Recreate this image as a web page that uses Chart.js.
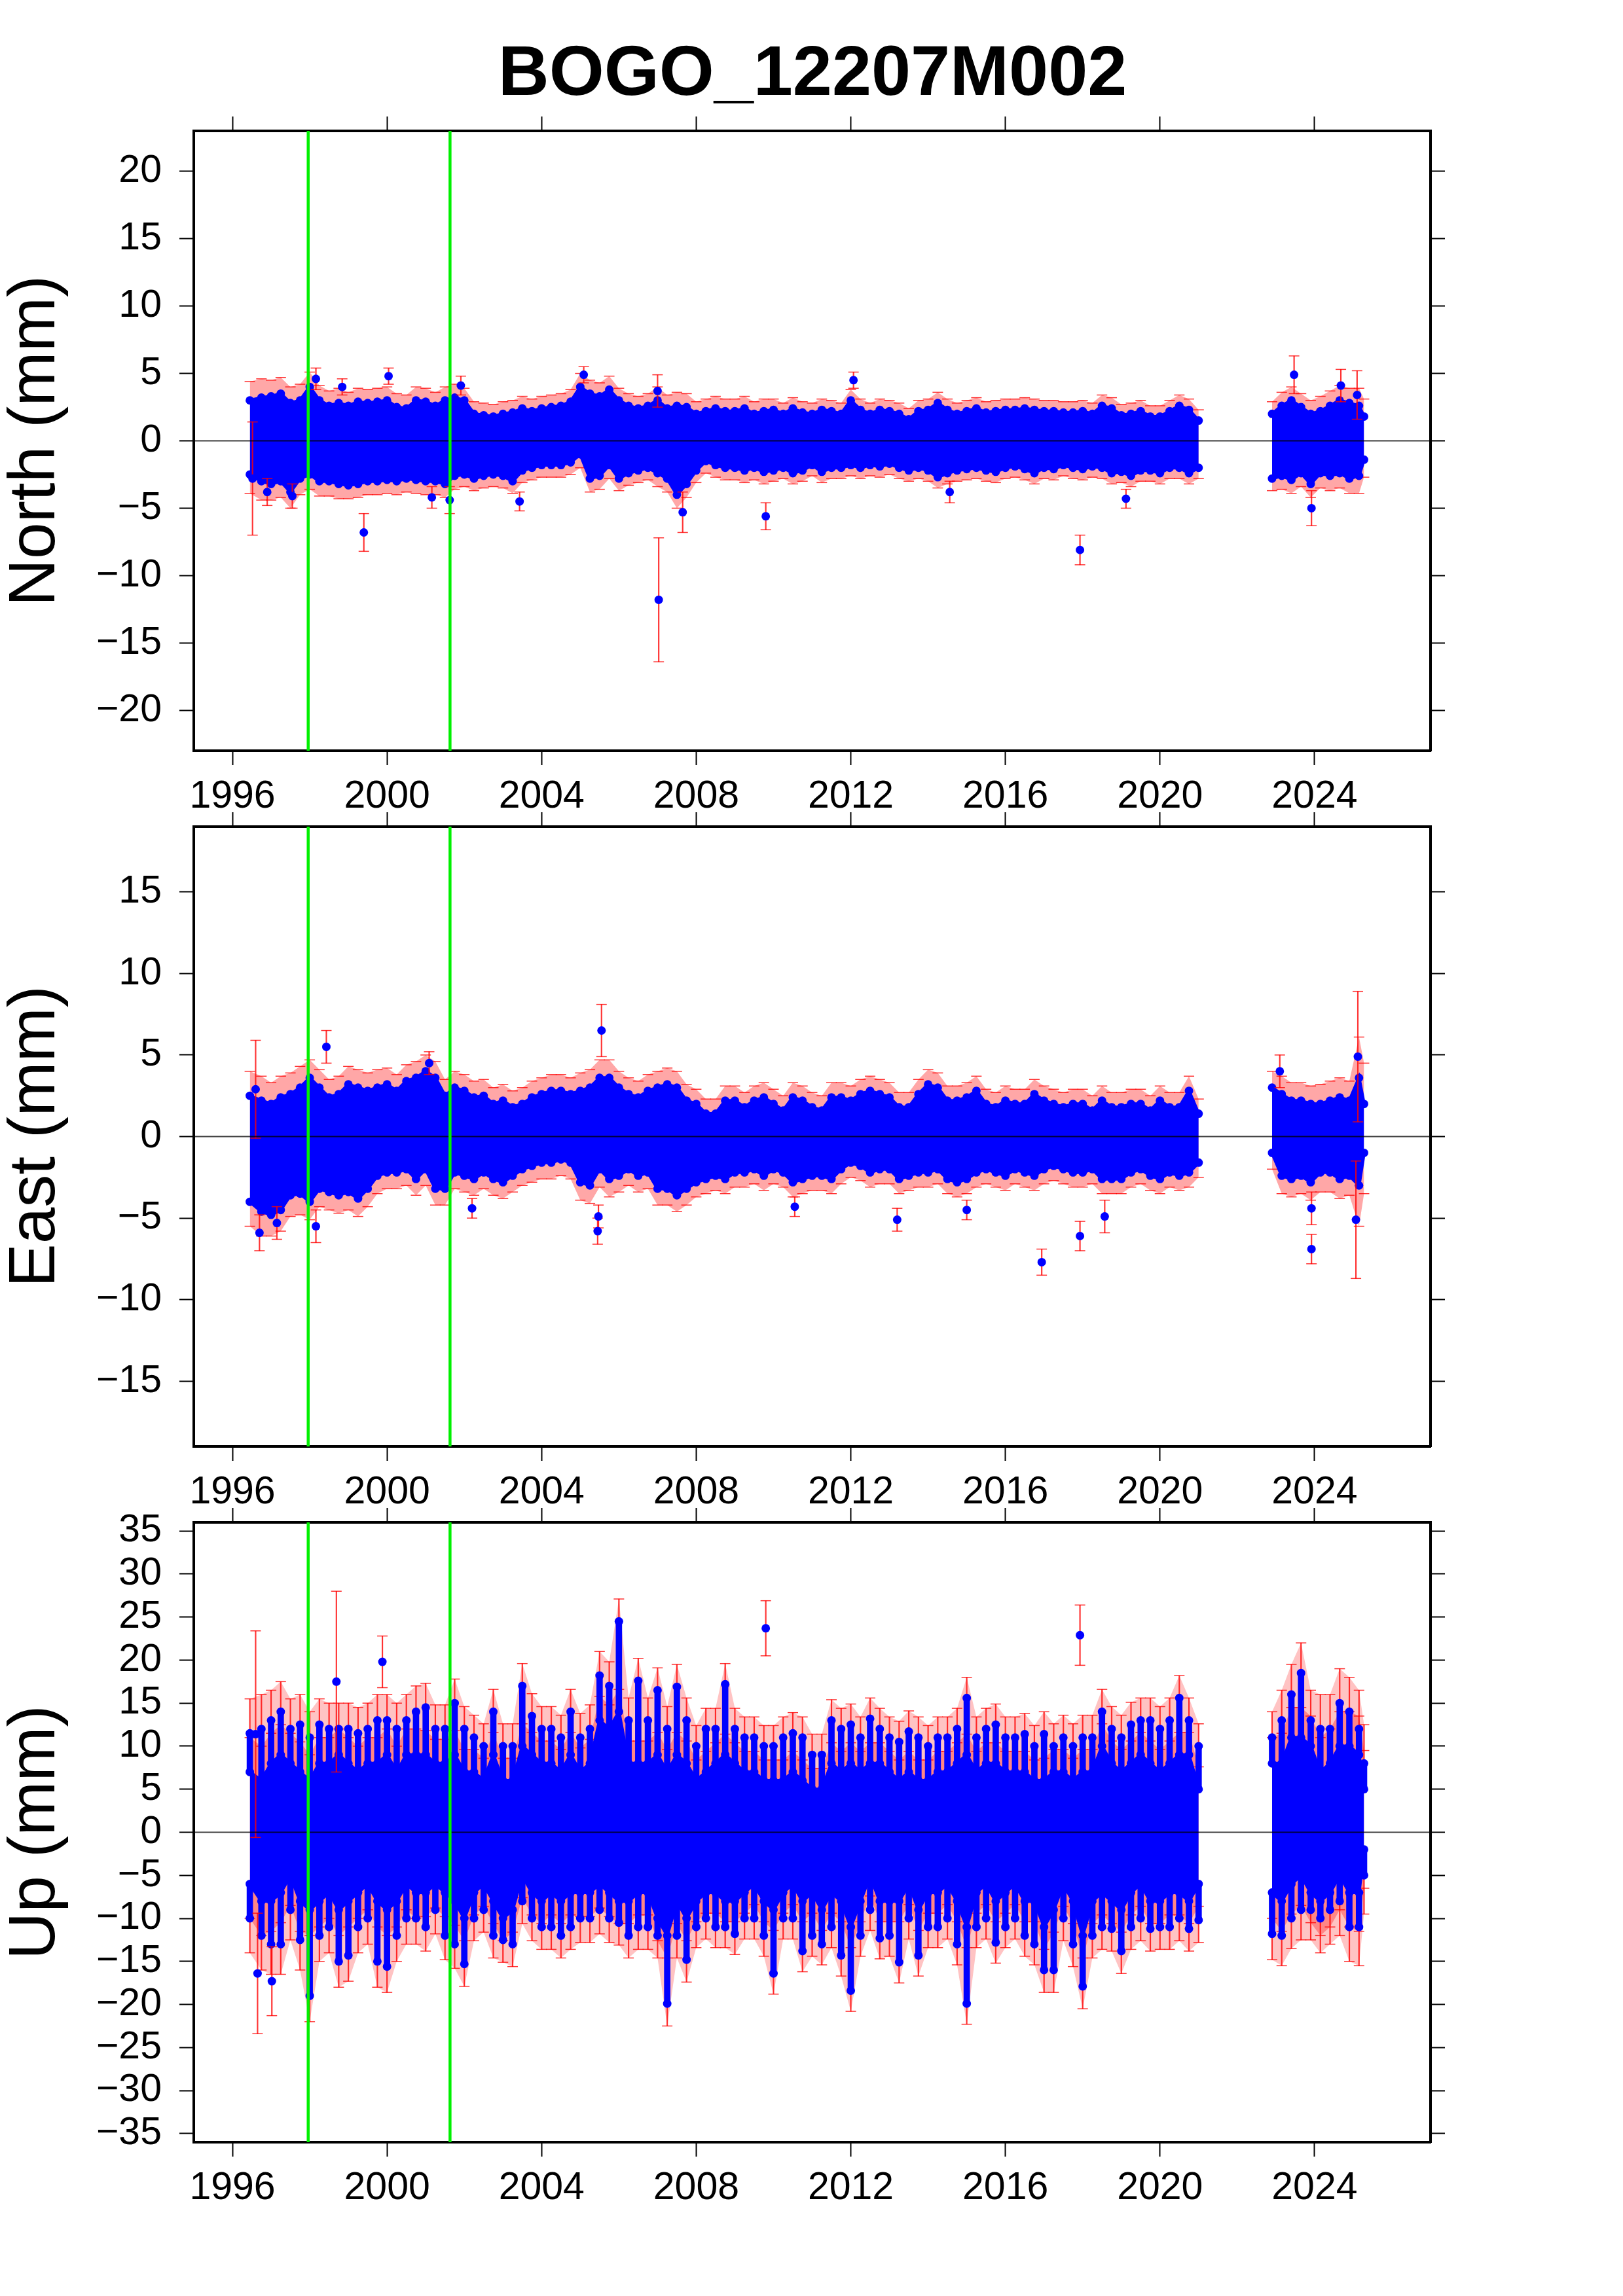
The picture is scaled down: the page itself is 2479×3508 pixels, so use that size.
<!DOCTYPE html>
<html>
<head>
<meta charset="utf-8">
<script src="https://cdn.jsdelivr.net/npm/chart.js@4.4.1/dist/chart.umd.min.js"></script>
<style>
  html, body { margin: 0; padding: 0; background: #fff; }
  body { width: 2479px; height: 3508px; position: relative; overflow: hidden; }
  #title { position: absolute; left: 0; top: 54px; width: 2482px; text-align: center;
           font: bold 108px 'Liberation Sans', Arial, Helvetica, sans-serif; line-height: 108px; color: #000; }
  canvas { position: absolute; left: 0; }
</style>
</head>
<body>
<div id="title">BOGO_12207M002</div>
<canvas id="north" width="2479" height="1117" style="top:160px"></canvas>
<canvas id="east" width="2479" height="1117" style="top:1223px"></canvas>
<canvas id="up" width="2479" height="1117" style="top:2286px"></canvas>
<script>
// GPS daily solutions, BOGO. Dense clouds are kept as quarterly envelopes
// (upper / lower edge of the solid band), plus the isolated points listed one by one.

const yearTicks  = [1996, 2000, 2004, 2008, 2012, 2016, 2020, 2024];
const northTicks = [-20, -15, -10, -5, 0, 5, 10, 15, 20];
const eastTicks  = [-15, -10, -5, 0, 5, 10, 15];
const upTicks    = [-35, -30, -25, -20, -15, -10, -5, 0, 5, 10, 15, 20, 25, 30, 35];
const eventYears = [1997.96, 2001.63];   // green lines

// bin centres (2022.0 = data gap)
const binYears = [
  1996.45, 1996.75,
  1997.0, 1997.25, 1997.5, 1997.75,
  1998.0, 1998.25, 1998.5, 1998.75,
  1999.0, 1999.25, 1999.5, 1999.75,
  2000.0, 2000.25, 2000.5, 2000.75,
  2001.0, 2001.25, 2001.5, 2001.75,
  2002.0, 2002.25, 2002.5, 2002.75,
  2003.0, 2003.25, 2003.5, 2003.75,
  2004.0, 2004.25, 2004.5, 2004.75,
  2005.0, 2005.25, 2005.5, 2005.75,
  2006.0, 2006.25, 2006.5, 2006.75,
  2007.0, 2007.25, 2007.5, 2007.75,
  2008.0, 2008.25, 2008.5, 2008.75,
  2009.0, 2009.25, 2009.5, 2009.75,
  2010.0, 2010.25, 2010.5, 2010.75,
  2011.0, 2011.25, 2011.5, 2011.75,
  2012.0, 2012.25, 2012.5, 2012.75,
  2013.0, 2013.25, 2013.5, 2013.75,
  2014.0, 2014.25, 2014.5, 2014.75,
  2015.0, 2015.25, 2015.5, 2015.75,
  2016.0, 2016.25, 2016.5, 2016.75,
  2017.0, 2017.25, 2017.5, 2017.75,
  2018.0, 2018.25, 2018.5, 2018.75,
  2019.0, 2019.25, 2019.5, 2019.75,
  2020.0, 2020.25, 2020.5, 2020.75,
  2021.0,
  2022.0,
  2022.9, 2023.15, 2023.4, 2023.65, 2023.9, 2024.15, 2024.4, 2024.65, 2024.9, 2025.15, 2025.28
];

// ---- North (mm)
const northHi = [
  3.0, 3.2,
  3.3, 3.5, 2.8, 3.0,
  4.0, 3.0, 2.6, 2.8,
  2.6, 2.9, 2.8, 2.9,
  3.0, 2.5, 2.4, 3.0,
  2.9, 2.6, 3.0, 3.2,
  3.0, 2.0, 1.9, 1.8,
  2.0, 2.1, 2.4, 2.2,
  2.4, 2.5, 2.6, 2.9,
  4.0, 3.5, 3.3, 3.8,
  3.0, 2.6, 2.4, 2.6,
  3.0, 2.4, 2.6, 2.5,
  2.0, 2.2, 2.4, 2.2,
  2.2, 2.4, 2.0, 2.2,
  2.3, 2.0, 2.4, 2.1,
  2.0, 2.3, 2.2, 2.0,
  3.0, 2.3, 2.0, 2.3,
  2.2, 2.0, 1.6, 2.2,
  2.3, 2.8, 2.3, 2.0,
  2.2, 2.4, 2.1, 2.2,
  2.3, 2.3, 2.4, 2.3,
  2.2, 2.2, 2.1, 2.1,
  2.2, 2.0, 2.6, 2.4,
  1.9, 2.0, 2.2, 1.8,
  1.8, 2.2, 2.6, 2.3,
  1.5,
  null,
  2.0, 2.6, 3.0, 2.5, 2.0, 2.2, 2.6, 3.0, 2.8, 2.6, 1.8
];
const northLo = [
  -2.5, -3.0,
  -3.2, -3.0, -3.8, -2.8,
  -2.5, -3.0, -3.0, -3.2,
  -3.3, -3.2, -3.0, -3.0,
  -2.9, -3.0, -2.8, -2.9,
  -3.0, -3.0, -3.2, -2.6,
  -2.5, -2.8, -2.6, -2.5,
  -2.6, -3.0, -2.2, -2.0,
  -1.8, -1.8, -1.8, -1.6,
  -1.0, -2.8, -2.6, -1.8,
  -2.8, -2.4, -2.2, -2.0,
  -2.4, -2.8, -4.0, -3.2,
  -2.2, -1.5, -1.8, -2.0,
  -2.0, -2.2, -2.0, -2.3,
  -2.2, -2.0, -2.4, -2.2,
  -1.8, -2.3, -2.0, -2.0,
  -1.8, -2.0, -1.8, -1.9,
  -1.7, -2.0, -2.2, -2.0,
  -2.2, -2.7, -2.4, -2.2,
  -2.1, -2.0, -2.2, -2.3,
  -2.0, -1.9, -2.1, -2.4,
  -2.0, -2.1, -1.8, -2.0,
  -2.1, -1.9, -2.0, -2.4,
  -2.3, -2.6, -2.2, -2.2,
  -2.4, -2.0, -2.0, -2.4,
  -2.0,
  null,
  -2.8, -2.6, -2.9, -2.4, -3.2, -2.4, -2.6, -2.4, -2.8, -2.6, -1.4
];
const northYearErr = [1.4, 1.2, 1.1, 1.0, 1.0, 1.0, 0.9, 0.9, 0.9, 1.0, 0.9, 1.0, 0.9, 0.9, 0.8,
                      0.8, 0.8, 0.8, 0.8, 0.8, 0.8, 0.8, 0.8, 0.8, 0.8, 0.8, 0.9, 1.0, 1.1, 1.3];
const northOutT = [1996.52, 1996.9, 1997.55, 1998.16, 1998.84, 1999.4, 2000.04, 2001.16, 2001.62, 2001.91, 2003.43, 2005.09,
                   2007.0, 2007.03, 2007.65, 2009.8, 2012.07, 2014.56, 2017.93, 2019.12, 2023.47, 2023.92, 2024.68, 2025.1];
const northOutV = [-2.8, -3.8, -4.1, 4.6, 4.0, -6.8, 4.8, -4.2, -4.4, 4.1, -4.5, 4.9,
                   3.7, -11.8, -5.3, -5.6, 4.5, -3.8, -8.1, -4.3, 4.9, -5.0, 4.1, 3.4];
const northOutE = [4.2, 1.0, 0.9, 0.8, 0.6, 1.4, 0.6, 0.8, 1.0, 0.7, 0.7, 0.6,
                   1.2, 4.6, 1.5, 1.0, 0.6, 0.8, 1.1, 0.7, 1.4, 1.3, 1.2, 1.8];

// ---- East (mm)
const eastHi = [
  2.5, 2.2,
  2.0, 2.4, 2.6, 3.0,
  3.6, 3.0, 2.4, 2.6,
  3.2, 3.0, 2.8, 3.0,
  3.2, 2.8, 3.4, 3.6,
  4.0, 3.6, 2.5, 3.0,
  2.8, 2.4, 2.5, 2.0,
  2.2, 1.8, 2.0, 2.4,
  2.6, 2.8, 2.8, 2.6,
  2.8, 3.0, 3.6, 3.6,
  3.0, 2.6, 2.4, 2.8,
  3.0, 3.2, 3.0, 2.2,
  2.0, 1.4, 1.4, 2.2,
  2.2, 1.8, 2.2, 2.4,
  2.0, 1.6, 2.4, 2.2,
  1.8, 1.6, 2.4, 2.4,
  2.2, 2.6, 2.8, 2.6,
  2.4, 1.8, 1.8, 2.6,
  3.2, 3.0, 2.2, 2.2,
  2.4, 2.8, 2.0, 1.8,
  2.2, 2.0, 2.0, 2.6,
  2.2, 2.0, 1.8, 2.0,
  2.0, 1.6, 2.2, 1.8,
  1.8, 2.0, 2.0, 1.6,
  2.2, 1.8, 1.8, 2.8,
  1.4,
  null,
  3.0, 2.6, 2.2, 2.2, 2.0, 2.0, 2.2, 2.4, 2.2, 3.6, 2.0
];
const eastLo = [
  -4.0, -4.6,
  -4.8, -4.5, -3.6, -3.5,
  -4.0, -3.2, -3.4, -3.6,
  -3.4, -3.8, -3.2, -2.4,
  -2.2, -2.2, -2.0, -2.6,
  -2.0, -3.2, -3.2, -2.2,
  -2.4, -2.6, -2.2, -2.6,
  -2.8, -2.4, -2.0, -1.8,
  -1.6, -1.6, -1.4, -1.6,
  -2.8, -3.0, -2.0, -2.6,
  -2.4, -2.0, -2.4, -2.2,
  -3.2, -3.2, -3.6, -3.2,
  -2.8, -2.6, -2.4, -2.6,
  -2.2, -2.2, -2.0, -2.4,
  -2.0, -2.2, -2.8, -2.6,
  -2.4, -2.4, -2.6, -2.0,
  -1.6, -1.8, -2.2, -2.0,
  -2.0, -2.6, -2.4, -2.2,
  -2.2, -2.0, -2.6, -2.8,
  -2.6, -2.2, -2.0, -2.2,
  -2.4, -2.0, -2.2, -2.4,
  -2.0, -1.8, -2.0, -2.2,
  -2.2, -2.0, -2.6, -2.6,
  -2.6, -2.2, -2.0, -2.4,
  -2.6, -2.2, -2.4, -2.2,
  -1.6,
  null,
  -1.0, -2.4, -2.6, -2.4, -2.8, -2.2, -2.2, -2.6, -2.4, -3.0, -1.0
];
const eastYearErr = [1.5, 1.3, 1.1, 1.1, 1.0, 1.0, 1.0, 1.0, 1.0, 1.1, 1.0, 1.0, 0.9, 0.9, 0.9,
                     0.9, 0.9, 0.9, 0.9, 0.9, 0.9, 0.9, 0.9, 0.9, 0.9, 0.9, 1.0, 1.1, 1.2, 2.5];
const eastOutT = [1996.6, 1996.7, 1997.15, 1998.16, 1998.43, 2001.09, 2002.2, 2005.45, 2005.47, 2005.55, 2010.55,
                  2013.2, 2015.0, 2016.94, 2017.93, 2018.57, 2023.1, 2023.92, 2023.92, 2025.07, 2025.12];
const eastOutV = [2.9, -5.9, -5.3, -5.5, 5.5, 4.5, -4.4, -5.8, -4.9, 6.5, -4.3,
                  -5.1, -4.5, -7.7, -6.1, -4.9, 4.0, -6.9, -4.4, -5.1, 4.9];
const eastOutE = [3.0, 1.1, 1.0, 1.0, 1.0, 0.7, 0.6, 0.8, 0.7, 1.6, 0.6,
                  0.7, 0.6, 0.8, 0.9, 1.0, 1.0, 0.9, 1.0, 3.6, 4.0];

// ---- Up (mm): solid core plus the tips of the streaks above / below it
const upHi = [
  7, 6,
  8, 9, 8, 7,
  6, 8, 8, 9,
  8, 7, 8, 8,
  9, 7, 9, 9,
  9, 8, 8, 9,
  7, 7, 6, 9,
  6, 6, 10, 9,
  8, 8, 7, 9,
  7, 8, 13, 12,
  14, 8, 8, 8,
  9, 7, 9, 8,
  6, 7, 8, 9,
  8, 7, 7, 6,
  6, 6, 7, 6,
  5, 5, 8, 7,
  8, 7, 8, 8,
  7, 6, 7, 6,
  6, 7, 7, 8,
  9, 7, 8, 8,
  7, 7, 7, 6,
  6, 7, 7, 6,
  7, 7, 10, 8,
  7, 8, 9, 8,
  7, 8, 9, 9,
  5,
  null,
  8, 8, 11, 11, 10, 7, 8, 10, 10, 9, 5
];
const upLo = [
  -6, -8,
  -8, -7, -5, -8,
  -9, -8, -7, -9,
  -8, -7, -6, -8,
  -9, -8, -6, -7,
  -7, -6, -7, -8,
  -10, -7, -6, -8,
  -10, -9, -5, -7,
  -8, -7, -8, -7,
  -7, -7, -6, -7,
  -8, -8, -7, -7,
  -10, -12, -8, -10,
  -8, -7, -7, -8,
  -8, -7, -6, -8,
  -9, -7, -6, -8,
  -7, -9, -7, -8,
  -11, -8, -5, -8,
  -8, -8, -6, -9,
  -7, -7, -6, -8,
  -11, -7, -6, -8,
  -7, -6, -8, -8,
  -11, -9, -6, -8,
  -12, -8, -7, -8,
  -9, -7, -6, -8,
  -8, -7, -7, -8,
  -6,
  null,
  -7, -8, -6, -5, -7, -8, -7, -5, -7, -7, -2
];
const upTop = [
  11.5, 12,
  13, 14, 12, 12.5,
  11, 12.5, 12, 12,
  12, 11.5, 12, 13,
  13, 12, 13, 14,
  14.5, 12, 12, 15,
  12, 11, 10, 14,
  10, 10, 17, 13.5,
  12, 12, 11, 14,
  11, 12, 18.2, 17,
  24.5, 13, 17.6, 13,
  16.5, 12, 16.9, 13,
  10, 12, 12, 17.2,
  12, 11, 11, 10,
  10, 11, 11.5, 11,
  9, 9, 13, 12,
  12.5, 11, 13.2, 12,
  11, 10.5, 11.7, 11,
  10, 11, 11, 12,
  15.6, 11, 12, 12.5,
  11, 11, 11.4, 10,
  11.4, 10, 11, 10,
  11, 11, 14, 12,
  11, 12.5, 13, 13,
  12, 13, 15.6, 13,
  10,
  null,
  11, 13, 16, 18.5, 13, 12, 12, 15, 14, 12, 8
];
const upBot = [
  -10, -12,
  -13, -13, -9, -12.5,
  -19, -12, -11, -15,
  -14.3, -11, -10, -15,
  -15.6, -12, -10, -10,
  -11, -9, -12, -13,
  -15.3, -10, -9, -12,
  -12.5, -13, -8, -10,
  -11, -11, -12, -11,
  -10, -10, -9, -10,
  -10.5, -12, -11, -11,
  -12, -19.9, -12, -14.8,
  -11, -10, -11, -11,
  -11.8, -10, -10, -12,
  -16.4, -10, -10, -13.8,
  -12, -13, -11, -14.3,
  -18.4, -12, -9, -12.3,
  -12, -15.1, -10, -14.3,
  -11, -11, -10, -13,
  -19.9, -11, -10, -12.8,
  -11, -10, -12, -13,
  -16, -16, -10, -13,
  -17.9, -12, -11, -11.2,
  -13.8, -11, -10, -11.2,
  -11, -11, -10, -11.2,
  -10.2,
  null,
  -11.8, -12, -10, -9, -9, -10, -9, -8, -11, -11, -5
];
const upYearErr = [4.0, 3.5, 3.0, 3.0, 3.0, 2.8, 2.6, 2.6, 2.6, 2.8, 2.6, 2.6, 2.4, 2.4, 2.4,
                   2.4, 2.4, 2.4, 2.4, 2.4, 2.4, 2.6, 2.6, 2.6, 2.6, 2.6, 3.0, 3.5, 4.0, 4.5];
const upOutT = [1996.6, 1996.65, 1997.02, 1998.69, 1999.88, 2009.8, 2017.93];
const upOutV = [11.4, -16.4, -17.3, 17.5, 19.8, 23.7, 22.9];
const upOutE = [12.0, 7.0, 4.0, 10.5, 3.0, 3.2, 3.5];

const FONT = "'Liberation Sans', Arial, Helvetica, sans-serif";
const BLUE = '#0000ff';
const RED = 'rgba(255,0,0,0.8)';
const RED_FILL = 'rgba(255,60,60,0.45)';
const RED_HAZE = 'rgba(255,40,40,0.28)';

function errFor(yearErr, t) { return yearErr[Math.floor(t) - 1996]; }

function xy(ts, vals) { return ts.map((t, i) => ({ x: t, y: vals[i] })); }

function shifted(vals, yearErr, sign) {
  return vals.map((v, i) => v === null ? null : v + sign * errFor(yearErr, binYears[i]));
}

function floating(ts, a, b) {
  const out = [];
  ts.forEach((t, i) => { if (a[i] !== null && b[i] !== null) out.push({ x: t, y: [a[i], b[i]] }); });
  return out;
}

function caps(ts, vals, order) {
  return { type: 'line', data: xy(ts, vals), showLine: false, pointStyle: 'line', pointRadius: 8,
           pointBorderColor: RED, pointBorderWidth: 1.5, order };
}

function whiskers(ts, a, b, order) {
  return { type: 'bar', data: floating(ts, a, b), backgroundColor: RED, borderWidth: 0,
           barThickness: 1.5, grouped: false, order };
}

function dots(ts, vals, order) {
  return { type: 'line', data: xy(ts, vals), showLine: false, pointRadius: 6.5,
           pointBackgroundColor: BLUE, pointBorderWidth: 0, order };
}

function panelDatasets(p) {
  const hiErr = shifted(p.hi, p.yearErr, 1);
  const loErr = shifted(p.lo, p.yearErr, -1);
  const ds = [
    { type: 'line', data: xy(binYears, hiErr), fill: '+1', backgroundColor: RED_FILL, borderWidth: 0, pointRadius: 0, order: 10 },
    { type: 'line', data: xy(binYears, loErr), fill: false, borderWidth: 0, pointRadius: 0, order: 10 },
    { type: 'line', data: xy(binYears, p.hi), fill: '+1', backgroundColor: BLUE, borderColor: BLUE, borderWidth: 5,
      pointRadius: 6.5, pointBackgroundColor: BLUE, pointBorderWidth: 0, order: 5 },
    { type: 'line', data: xy(binYears, p.lo), fill: false, borderColor: BLUE, borderWidth: 5,
      pointRadius: 6.5, pointBackgroundColor: BLUE, pointBorderWidth: 0, order: 5 },
    caps(binYears, hiErr, 9),
    caps(binYears, loErr, 9),
  ];
  if (p.top) {
    const topErr = shifted(p.top, p.yearErr, 1);
    const botErr = shifted(p.bot, p.yearErr, -1);
    // faint red haze of the whiskers spread over the streak zone
    ds.push({ type: 'line', data: xy(binYears, topErr), fill: '+1', backgroundColor: RED_HAZE, borderWidth: 0, pointRadius: 0, order: 11 });
    ds.push({ type: 'line', data: xy(binYears, botErr), fill: false, borderWidth: 0, pointRadius: 0, order: 11 });
    ds.push(whiskers(binYears, p.top, topErr, 8), whiskers(binYears, p.bot, botErr, 8));
    ds.push(caps(binYears, topErr, 8), caps(binYears, botErr, 8));
    ds.push({ type: 'bar', data: floating(binYears, p.hi, p.top), backgroundColor: BLUE, borderWidth: 0,
              barThickness: 9, grouped: false, order: 6 });
    ds.push({ type: 'bar', data: floating(binYears, p.bot, p.lo), backgroundColor: BLUE, borderWidth: 0,
              barThickness: 9, grouped: false, order: 6 });
    ds.push(dots(binYears, p.top, 4), dots(binYears, p.bot, 4));
  }
  const oHi = p.outV.map((v, i) => v + p.outE[i]);
  const oLo = p.outV.map((v, i) => v - p.outE[i]);
  ds.push(whiskers(p.outT, oLo, oHi, 3), caps(p.outT, oHi, 3), caps(p.outT, oLo, 3), dots(p.outT, p.outV, 2));
  return ds;
}

// zero line and the two green event lines, drawn over the data
const overlayLines = {
  id: 'overlayLines',
  afterDatasetsDraw(chart) {
    const { ctx, chartArea: a, scales: { x, y } } = chart;
    ctx.save();
    ctx.beginPath();
    ctx.rect(a.left, a.top, a.right - a.left, a.bottom - a.top);
    ctx.clip();
    const y0 = y.getPixelForValue(0);
    ctx.strokeStyle = 'rgba(0,0,0,0.75)';
    ctx.lineWidth = 2;
    ctx.beginPath(); ctx.moveTo(a.left, y0); ctx.lineTo(a.right, y0); ctx.stroke();
    ctx.strokeStyle = '#00f000';
    ctx.lineWidth = 4.5;
    eventYears.forEach(t => {
      const px = x.getPixelForValue(t);
      ctx.beginPath(); ctx.moveTo(px, a.top); ctx.lineTo(px, a.bottom); ctx.stroke();
    });
    ctx.restore();
  }
};

const minusLabel = v => (v < 0 ? '\u2212' + Math.abs(v) : String(v));

function scalesFor(yMin, yMax, yTicks, title) {
  const grid = () => ({ display: true, drawOnChartArea: false, drawTicks: true, tickLength: 22,
                        tickColor: '#000', tickWidth: 2, offset: false });
  const border = () => ({ display: true, color: '#000', width: 4 });
  const noPad = s => { s.paddingTop = 0; s.paddingBottom = 0; s.paddingLeft = 0; s.paddingRight = 0; };
  const tickFont = { family: FONT, size: 59 };
  return {
    x: {
      type: 'linear', position: 'bottom', min: 1995, max: 2027, offset: false,
      grid: grid(), border: border(),
      afterBuildTicks: s => { s.ticks = yearTicks.map(v => ({ value: v })); },
      afterFit: s => { s.height = 130; noPad(s); },
      ticks: { font: tickFont, color: '#000', padding: 13, maxRotation: 0, autoSkip: false, callback: v => String(v) },
    },
    xTop: {
      type: 'linear', position: 'top', min: 1995, max: 2027, offset: false,
      grid: grid(), border: border(),
      afterBuildTicks: s => { s.ticks = yearTicks.map(v => ({ value: v })); },
      afterFit: s => { s.height = 40; noPad(s); },
      ticks: { display: false },
    },
    y: {
      type: 'linear', position: 'left', min: yMin, max: yMax,
      grid: grid(), border: border(),
      afterBuildTicks: s => { s.ticks = yTicks.map(v => ({ value: v })); },
      afterFit: s => { s.width = 296; noPad(s); },
      ticks: { font: tickFont, color: '#000', padding: 27, autoSkip: false, callback: minusLabel },
      title: { display: true, text: title, color: '#000', font: { family: FONT, size: 100, lineHeight: 1 },
               padding: { top: 5, bottom: 0 } },
    },
    yRight: {
      type: 'linear', position: 'right', min: yMin, max: yMax,
      grid: grid(), border: border(),
      afterBuildTicks: s => { s.ticks = yTicks.map(v => ({ value: v })); },
      afterFit: s => { s.width = 294; noPad(s); },
      ticks: { display: false },
    },
  };
}

function makeChart(id, p, yMin, yMax, yTicks, title) {
  return new Chart(document.getElementById(id), {
    type: 'line',
    data: { datasets: panelDatasets(p) },
    options: {
      responsive: false,
      animation: false,
      devicePixelRatio: 1,
      events: [],
      layout: { padding: 0 },
      elements: { line: { tension: 0 } },
      plugins: { legend: { display: false }, tooltip: { enabled: false } },
      scales: scalesFor(yMin, yMax, yTicks, title),
    },
    plugins: [overlayLines],
  });
}

makeChart('north', { hi: northHi, lo: northLo, yearErr: northYearErr,
                     outT: northOutT, outV: northOutV, outE: northOutE }, -23, 23, northTicks, 'North (mm)');
makeChart('east', { hi: eastHi, lo: eastLo, yearErr: eastYearErr,
                    outT: eastOutT, outV: eastOutV, outE: eastOutE }, -19, 19, eastTicks, 'East (mm)');
makeChart('up', { hi: upHi, lo: upLo, top: upTop, bot: upBot, yearErr: upYearErr,
                  outT: upOutT, outV: upOutV, outE: upOutE }, -36, 36, upTicks, 'Up (mm)');
</script>
</body>
</html>
